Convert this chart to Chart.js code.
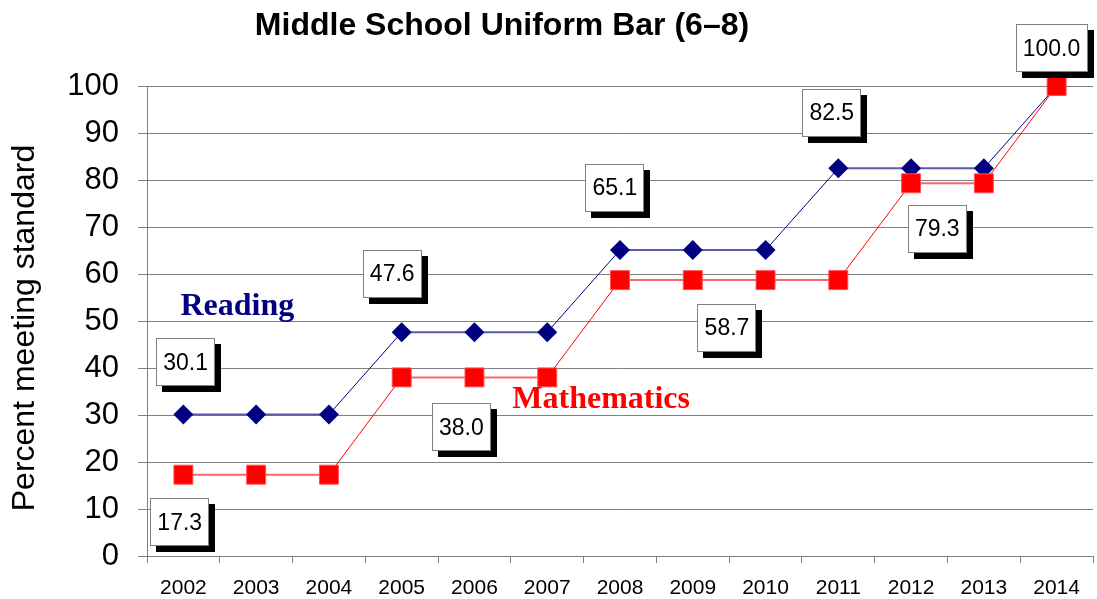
<!DOCTYPE html>
<html>
<head>
<meta charset="utf-8">
<script src="https://cdn.jsdelivr.net/npm/chart.js@4"></script>
<style>
  html, body { margin: 0; padding: 0; background: #fff; overflow: hidden; }
  canvas { display: block; }
</style>
</head>
<body>
<canvas id="chart" width="1097" height="599"></canvas>
<script>
// ---- data ----
const years = ['2002', '2003', '2004', '2005', '2006', '2007', '2008',
               '2009', '2010', '2011', '2012', '2013', '2014'];
const reading = [30.1, 30.1, 30.1, 47.6, 47.6, 47.6, 65.1, 65.1, 65.1, 82.5, 82.5, 82.5, 100.0];
const math    = [17.3, 17.3, 17.3, 38.0, 38.0, 38.0, 58.7, 58.7, 58.7, 58.7, 79.3, 79.3, 100.0];

// value call-outs: which series / point, and where the box sits (category index, percent)
const callouts = [
  { series: 'reading', i: 0,  at: [0.03, 41.2] },
  { series: 'math',    i: 0,  at: [-0.05, 7.2] },
  { series: 'reading', i: 3,  at: [2.87, 60.0] },
  { series: 'math',    i: 3,  at: [3.82, 27.4] },
  { series: 'reading', i: 6,  at: [5.93, 78.3] },
  { series: 'math',    i: 6,  at: [7.47, 48.6] },
  { series: 'reading', i: 9,  at: [8.91, 94.3] },
  { series: 'math',    i: 10, at: [10.36, 69.6] },
  { series: 'math',    i: 12, at: [11.93, 108.0] }
];

const NAVY = '#000080';
const RED = '#ff0000';
const SANS = 'Arial, "Liberation Sans", sans-serif';

// ---- drawing extras: title, axis title, series names, value boxes ----
const extras = {
  id: 'extras',
  afterDraw(chart) {
    const { ctx, scales: { x, y } } = chart;
    const series = { reading, math };
    ctx.save();

    // title
    ctx.font = 'bold 32px ' + SANS;
    ctx.fillStyle = '#000';
    ctx.textAlign = 'center';
    ctx.textBaseline = 'middle';
    ctx.fillText('Middle School Uniform Bar (6–8)', 502, 26);

    // y axis title
    ctx.save();
    ctx.translate(25, 328);
    ctx.rotate(-Math.PI / 2);
    ctx.font = '32px ' + SANS;
    ctx.fillText('Percent meeting standard', 0, 0);
    ctx.restore();

    // series names
    ctx.font = 'bold 32px "Times New Roman", "Liberation Serif", serif';
    ctx.textAlign = 'left';
    ctx.textBaseline = 'alphabetic';
    ctx.fillStyle = NAVY;
    ctx.fillText('Reading', x.getPixelForValue(-0.04), y.getPixelForValue(51.2));
    ctx.fillStyle = RED;
    ctx.fillText('Mathematics', x.getPixelForValue(4.52), y.getPixelForValue(31.4));

    // value boxes with drop shadow
    ctx.font = '23px ' + SANS;
    ctx.textAlign = 'center';
    ctx.textBaseline = 'middle';
    callouts.forEach(c => {
      const text = series[c.series][c.i].toFixed(1);
      const cx = x.getPixelForValue(c.at[0]);
      const cy = y.getPixelForValue(c.at[1]);
      const w = Math.round(ctx.measureText(text).width + 14);
      const h = 48;
      const bx = Math.round(cx - w / 2), by = Math.round(cy - h / 2);
      ctx.fillStyle = '#000';
      ctx.fillRect(bx + 6, by + 6, w, h);
      ctx.fillStyle = '#fff';
      ctx.fillRect(bx, by, w, h);
      ctx.strokeStyle = '#808080';
      ctx.lineWidth = 1;
      ctx.strokeRect(bx + 0.5, by + 0.5, w - 1, h - 1);
      ctx.fillStyle = '#000';
      ctx.fillText(text, cx, cy + 1);
    });

    ctx.restore();
  }
};

const flat = (light, dark) => ({
  borderColor: c => c.p0.parsed.y === c.p1.parsed.y ? light : dark,
  borderWidth: c => c.p0.parsed.y === c.p1.parsed.y ? 2 : 1
});

new Chart(document.getElementById('chart'), {
  type: 'line',
  data: {
    labels: years,
    datasets: [
      {
        label: 'Mathematics',
        data: math,
        borderColor: RED,
        backgroundColor: RED,
        pointStyle: 'rect',
        pointRadius: 13.4,
        pointHoverRadius: 13.4,
        pointBorderColor: '#ff5050',
        pointBorderWidth: 1,
        segment: flat('#ff6666', RED),
        clip: false
      },
      {
        label: 'Reading',
        data: reading,
        borderColor: NAVY,
        backgroundColor: NAVY,
        pointStyle: 'rectRot',
        pointRadius: 10,
        pointHoverRadius: 10,
        pointBorderWidth: 0,
        segment: flat('#5a5aa8', NAVY),
        clip: false
      }
    ]
  },
  options: {
    responsive: false,
    animation: false,
    devicePixelRatio: 1,
    layout: { autoPadding: false, padding: { top: 86, right: 4, bottom: 0, left: 0 } },
    plugins: {
      legend: { display: false },
      title: { display: false },
      tooltip: { enabled: false }
    },
    scales: {
      x: {
        offset: true,
        grid: {
          offset: true,
          drawOnChartArea: false,
          color: '#808080',
          tickLength: 7
        },
        border: { color: '#808080', width: 1 },
        ticks: {
          color: '#000',
          font: { family: SANS, size: 21 },
          padding: 13,
          maxRotation: 0,
          autoSkip: false
        },
        afterFit(s) { s.height = 43; s.paddingLeft = 0; s.paddingRight = 0; }
      },
      y: {
        min: 0,
        max: 100,
        ticks: {
          stepSize: 5,
          color: '#000',
          font: { family: SANS, size: 31 },
          padding: 19,
          callback: v => v % 10 === 0 ? v : ''
        },
        grid: {
          color: c => c.tick && c.tick.value % 10 === 0 ? '#808080' : 'rgba(0,0,0,0)',
          tickColor: '#808080',
          tickLength: 9,
          lineWidth: 1
        },
        border: { color: '#808080', width: 1 },
        afterFit(s) { s.width = 147; s.paddingTop = 0; s.paddingBottom = 0; }
      }
    }
  },
  plugins: [extras]
});
</script>
</body>
</html>
